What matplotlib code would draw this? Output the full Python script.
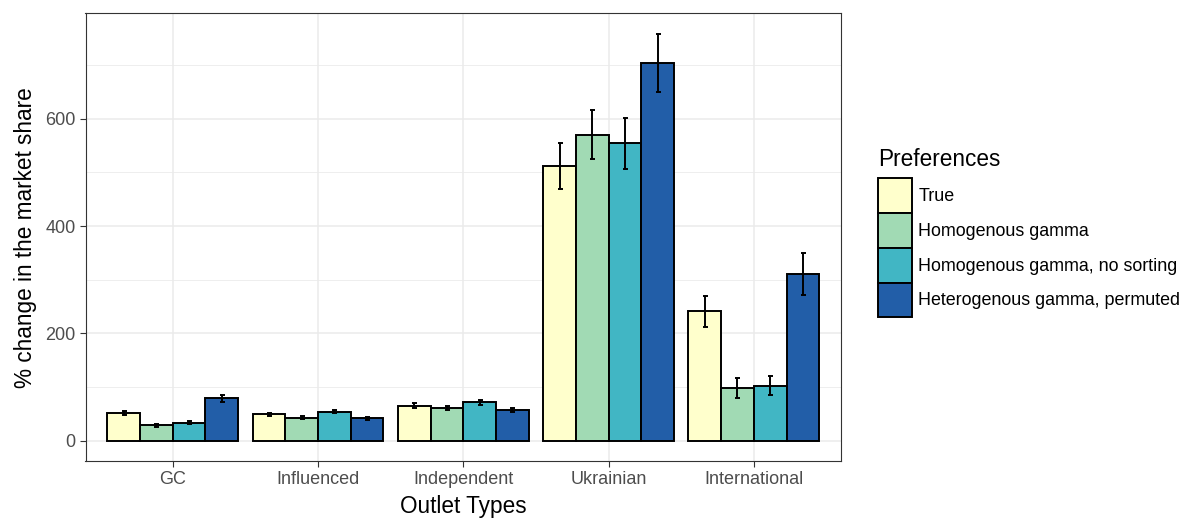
import numpy as np
import matplotlib.pyplot as plt
from matplotlib.patches import Patch

# --- data ---
outlets = ['GC', 'Influenced', 'Independent', 'Ukrainian', 'International']
prefs = ['True', 'Homogenous gamma', 'Homogenous gamma, no sorting',
         'Heterogenous gamma, permuted']

true_vals = [52.6, 49.6, 65.6, 511, 241.5]
homog_vals = [29, 43.3, 61.9, 570, 98]
nosort_vals = [34, 54.5, 71.8, 554, 103]
hetero_vals = [79.3, 42, 58.2, 704, 311]

true_err = [4, 3, 5, 43, 29]
homog_err = [3, 2.5, 4, 45, 18.5]
nosort_err = [3, 3, 4, 47, 17]
hetero_err = [6.5, 3, 4, 54, 39]

colors = ['#FFFFCC', '#A1DAB4', '#41B6C4', '#225EA8']

values = [true_vals, homog_vals, nosort_vals, hetero_vals]
errors = [true_err, homog_err, nosort_err, hetero_err]

plt.rcParams['font.family'] = ['Liberation Sans', 'DejaVu Sans']

W, H = 1186, 518
fig = plt.figure(figsize=(W / 100, H / 100), dpi=100)
ax = fig.add_axes([85.5 / W, (H - 461.3) / H,
                   (841 - 85.5) / W, (461.3 - 13.3) / H])

x = np.arange(len(outlets))
width = 0.9 / 4
for i, (vals, errs) in enumerate(zip(values, errors)):
    pos = x - 0.45 + width * (i + 0.5)
    ax.bar(pos, vals, width=width, color=colors[i], edgecolor='black',
           linewidth=1.4, zorder=3)
    ax.errorbar(pos, vals, yerr=errs, fmt='none', ecolor='black',
                elinewidth=1.4, capsize=1.8, capthick=1.4, zorder=4)

# ggplot-like look
ax.set_xlim(-0.6, len(outlets) - 0.4)
ax.set_ylim(-37.9, 795.9)
ax.set_yticks([0, 200, 400, 600])
ax.set_yticks([100, 300, 500, 700], minor=True)
ax.set_xticks(x)
ax.set_xticklabels(outlets)
ax.grid(which='major', color='#EBEBEB', linewidth=1.1, zorder=0)
ax.grid(which='minor', axis='y', color='#EBEBEB', linewidth=0.6, zorder=0)
ax.tick_params(which='minor', length=0)
ax.tick_params(which='major', length=4, width=0.8, color='#333333',
               labelcolor='#4D4D4D', labelsize=13, pad=3)
for s in ax.spines.values():
    s.set_color('#333333')
    s.set_linewidth(0.8)

ax.set_xlabel('Outlet Types', fontsize=16.3, labelpad=5)
ax.set_ylabel('% change in the market share', fontsize=16.3, labelpad=6)

# legend: title drawn separately so the key block can sit exactly
fig.text(878 / W, 1 - 160 / H, 'Preferences', fontsize=16.3,
         ha='left', va='center')
handles = [Patch(facecolor=c, edgecolor='black', linewidth=1.4) for c in colors]
fig.legend(handles, prefs, loc='upper left',
           bbox_to_anchor=(878 / W, 1 - 178.5 / H), frameon=False,
           fontsize=12.9, handlelength=1.88, handleheight=2.6,
           handletextpad=0.38, labelspacing=0.0, borderpad=0.0,
           borderaxespad=0.0)

fig.savefig('out.png', dpi=100)
